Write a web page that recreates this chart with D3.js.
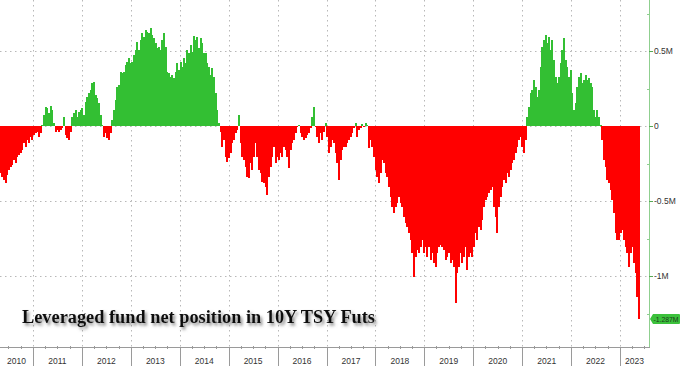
<!DOCTYPE html>
<html><head><meta charset="utf-8">
<script src="https://cdn.jsdelivr.net/npm/d3@7"></script>
<style>html,body{margin:0;padding:0;background:#fff;}svg{display:block;}</style>
</head><body>
<svg id="chart" width="680" height="366"></svg>
<script>
// Leveraged fund net position in 10Y TSY futures, thousands of contracts (approx. every ~12 days)
const seg2010_2012 = [-316,-338,-360,-382,-327,-293,-271,-260,-227,-249,-204,-193,-182,-160,-116,-138,-93,-116,-71,-93,-60,-49,-38,-71,-49,7,73,129,118,84,133,107,18,-38,-27,-38,-27,-16,62,-60,-82,-93,-38,62,84,107,62,96,107,118,73,162,196,218,240,284,296,207,184,151,73,7,-71];
const seg2012_2014 = [-49,-82,-93,-49,40,107,173,262,273,362,351,362,407,429,451,418,429,473,507,562,507,573,618,596,640,629,618,651,607,584,551,518,529,507,573,618,529,362,351,329,340,318,362,418,373,429,396,451,418,507,484,540,496,600,573,596,518,584,551,484,484,418,396,340];
const seg2014_2017 = [384,329,218,107,18,-38,-138,-93,-204,-238,-216,-182,-116,-93,-49,-27,73,-116,-204,-227,-271,-338,-349,-249,-293,-204,-116,-204,-293,-316,-371,-382,-404,-460,-338,-271,-204,-138,-249,-204,-227,-182,-204,-138,-160,-204,-282,-160,-116,-93,-49,-4,7,-49,-71,-93,-82,-60,-49,-16,62,129,-4];
const seg2017_2019 = [-71,-116,-49,-93,-38,18,-71,-182,-138,-93,-116,-182,-249,-360,-227,-160,-138,-138,-116,-93,-71,-49,-16,18,-71,-27,-16,13,-4,18,7,-149,-93,-138,-204,-293,-338,-382,-316,-227,-249,-316,-338,-404,-471,-538,-582,-538,-516,-471,-516,-538,-604,-649,-671,-716,-760,-849,-1004,-871,-827,-849,-804];
const seg2019_2021 = [-760,-849,-804,-871,-804,-893,-849,-916,-938,-849,-804,-793,-804,-827,-893,-871,-849,-916,-893,-938,-1182,-982,-938,-849,-916,-871,-804,-960,-871,-849,-871,-804,-716,-760,-671,-693,-627,-538,-493,-471,-449,-427,-404,-538,-604,-716,-538,-471,-404,-360,-382,-316,-338,-293,-249,-227,-182,-138,-93,-71,-138,-182,-93];
const seg2021_2023 = [62,129,218,240,307,262,196,240,396,529,573,607,551,596,507,573,440,329,284,329,418,507,584,440,396,329,373,218,107,151,262,329,351,284,307,340,307,318,284,262,107,62,107,62,7,-93,-227,-271,-360,-382,-427,-493,-582,-716,-760,-760,-716,-693,-760,-804,-849,-938,-849,-804,-916,-982,-1138,-1287];

const yearLabels = ["2010","2011","2012","2013","2014","2015","2016","2017","2018","2019","2020","2021","2022","2023"];
const yTicks = [0.5, 0, -0.5, -1];
const yTickLabels = ["0.5M", "0", "-0.5M", "-1M"];
const lastLabel = "-1.287M";
const titleText = "Leveraged fund net position in 10Y TSY Futs";

const firstDate = new Date(2010, 3, 28);
const stepDays = 12.44;

const values = [].concat(seg2010_2012, seg2012_2014, seg2014_2017, seg2017_2019, seg2019_2021, seg2021_2023);
const data = values.map((v, i) => ({date: new Date(firstDate.getTime() + i * stepDays * 864e5), v: v / 1000}));

const svg = d3.select("#chart");
const W = 680, H = 366;
const axisX = 649, axisY = 347;

const x = d3.scaleTime().domain([new Date(2011,0,1), new Date(2023,0,1)]).range([33, 620]);
const y = d3.scaleLinear().domain([-1.4733, 0.84]).range([axisY, 0]);

const defs = svg.append("defs");
defs.append("clipPath").attr("id","plot").append("rect").attr("x",0).attr("y",0).attr("width",axisX).attr("height",axisY);
const f = defs.append("filter").attr("id","shadow").attr("x","-10%").attr("y","-30%").attr("width","120%").attr("height","170%");
f.append("feDropShadow").attr("dx",2).attr("dy",2.5).attr("stdDeviation",1.6).attr("flood-color","#555").attr("flood-opacity",0.7);

// gridlines
const yearStarts = yearLabels.map(t => new Date(+t, 0, 1)).concat([new Date(2024,0,1)]);
const grid = svg.append("g").attr("clip-path","url(#plot)");
grid.selectAll("line.v").data(yearStarts.slice(1, -1)).join("line")
  .attr("x1", d => Math.round(x(d)) + 0.5).attr("x2", d => Math.round(x(d)) + 0.5)
  .attr("y1", 0).attr("y2", axisY)
  .attr("stroke", "#b8b8b8").attr("stroke-width", 1).attr("stroke-dasharray", "1.5,3.5");
grid.selectAll("line.h").data(yTicks).join("line")
  .attr("x1", 0).attr("x2", axisX)
  .attr("y1", d => Math.round(y(d)) + 0.5).attr("y2", d => Math.round(y(d)) + 0.5)
  .attr("stroke", "#b8b8b8").attr("stroke-width", 1).attr("stroke-dasharray", "1.5,3.5");

// bars
const plot = svg.append("g").attr("clip-path","url(#plot)");
plot.selectAll("rect").data(data).join("rect")
  .attr("x", (d, i) => x(d.date))
  .attr("width", (d, i) => {
    const next = new Date(d.date.getTime() + stepDays * 864e5);
    return x(next) - x(d.date) + 0.35;
  })
  .attr("y", d => d.v >= 0 ? y(d.v) : y(0))
  .attr("height", d => Math.abs(y(d.v) - y(0)))
  .attr("fill", d => d.v >= 0 ? "#33bf33" : "#ff0000")
  .attr("shape-rendering", "crispEdges");

// right axis
const ra = svg.append("g");
ra.append("line").attr("x1", axisX + 0.5).attr("x2", axisX + 0.5).attr("y1", 0).attr("y2", axisY)
  .attr("stroke", "#8fcf8f").attr("stroke-width", 1);
const minor = d3.range(-1.25, 0.8, 0.25).filter(v => Math.abs(v*2 - Math.round(v*2)) > 0.01);
ra.selectAll("line.minor").data(minor).join("line")
  .attr("x1", axisX - 2).attr("x2", axisX + 1)
  .attr("y1", d => Math.round(y(d)) + 0.5).attr("y2", d => Math.round(y(d)) + 0.5)
  .attr("stroke", "#8fcf8f");
ra.selectAll("line.major").data(yTicks).join("line")
  .attr("x1", axisX).attr("x2", axisX + 4)
  .attr("y1", d => Math.round(y(d)) + 0.5).attr("y2", d => Math.round(y(d)) + 0.5)
  .attr("stroke", "#55aa55");
ra.selectAll("text").data(yTicks).join("text")
  .attr("x", axisX + 5).attr("y", d => y(d) + 3)
  .attr("font-family", "Liberation Sans, Arial, sans-serif").attr("font-size", 8.5)
  .attr("fill", "#333").text((d, i) => yTickLabels[i]);

// last value tag
const last = data[data.length - 1];
const ly = y(last.v);
const tag = svg.append("g");
tag.append("path")
  .attr("d", `M${axisX+1},${ly} L${axisX+4},${ly-5} L${W-1},${ly-5} Q${W},${ly-5} ${W},${ly-4} L${W},${ly+4} Q${W},${ly+5} ${W-1},${ly+5} L${axisX+4},${ly+5} Z`)
  .attr("fill", "#3cc13c");
tag.append("text").attr("x", axisX + 4.5).attr("y", ly + 2.8)
  .attr("font-family", "Liberation Sans, Arial, sans-serif").attr("font-size", 7.5)
  .attr("textLength", 25).attr("lengthAdjust", "spacingAndGlyphs")
  .attr("fill", "#1a3a1a").text(lastLabel);

// bottom axis
const ba = svg.append("g");
ba.append("line").attr("x1", 0).attr("x2", axisX + 1).attr("y1", axisY + 0.5).attr("y2", axisY + 0.5)
  .attr("stroke", "#9a9a9a");
ba.selectAll("line.year").data(yearStarts.slice(1, -1)).join("line")
  .attr("x1", d => Math.round(x(d)) + 0.5).attr("x2", d => Math.round(x(d)) + 0.5)
  .attr("y1", axisY).attr("y2", H)
  .attr("stroke", "#9a9a9a");
const quarters = d3.timeMonth.every(3).range(new Date(2010,0,1), new Date(2024,0,1)).filter(d => d.getMonth() !== 0);
ba.selectAll("line.q").data(quarters.filter(d => x(d) > 0 && x(d) < axisX)).join("line")
  .attr("x1", d => Math.round(x(d)) + 0.5).attr("x2", d => Math.round(x(d)) + 0.5)
  .attr("y1", axisY - 1).attr("y2", axisY + 2)
  .attr("stroke", "#9a9a9a");
ba.selectAll("text").data(yearLabels).join("text")
  .attr("x", (d, i) => {
    const a = Math.max(0, x(yearStarts[i])), b = Math.min(axisX, x(yearStarts[i+1]));
    return (a + b) / 2;
  })
  .attr("y", 364).attr("text-anchor", "middle")
  .attr("font-family", "Liberation Sans, Arial, sans-serif").attr("font-size", 8.5)
  .attr("fill", "#333").text(d => d);

// title
svg.append("text").attr("x", 22).attr("y", 323)
  .attr("font-family", "Liberation Serif, Times New Roman, serif").attr("font-weight", "bold")
  .attr("font-size", 18).attr("fill", "#111")
  .attr("textLength", 353).attr("lengthAdjust", "spacingAndGlyphs")
  .attr("filter", "url(#shadow)")
  .text(titleText);
</script>
</body></html>
